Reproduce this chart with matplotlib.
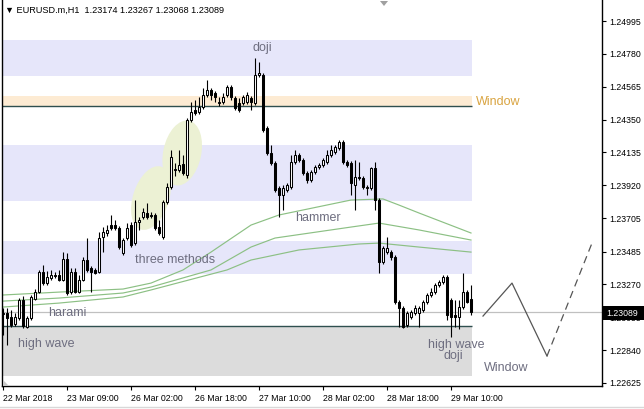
import matplotlib
matplotlib.use('Agg')
import matplotlib.pyplot as plt
from matplotlib.patches import Rectangle, Ellipse, Polygon
import matplotlib.transforms as mtransforms
from matplotlib.lines import Line2D

plt.rcParams['font.family'] = ['Liberation Sans', 'DejaVu Sans']

# ---------------- data ----------------
opens = [1.23076, 1.23083, 1.23057, 1.23011, 1.23050, 1.23168, 1.22991, 1.23050, 1.23175, 1.23220,
         1.23351, 1.23279, 1.23312, 1.23332, 1.23332, 1.23299, 1.23437, 1.23220, 1.23351, 1.23220,
         1.23299, 1.23430, 1.23378, 1.23365, 1.23351, 1.23581, 1.23607, 1.23659, 1.23659, 1.23640,
         1.23476, 1.23574, 1.23659, 1.23541, 1.23679, 1.23712, 1.23738, 1.23725, 1.23725, 1.23646,
         1.23581, 1.23810, 1.23908, 1.24020, 1.24020, 1.24059, 1.23987, 1.24347, 1.24413, 1.24399,
         1.24432, 1.24511, 1.24544, 1.24524, 1.24458, 1.24465, 1.24511, 1.24563, 1.24491, 1.24458,
         1.24458, 1.24465, 1.24491, 1.24458, 1.24642, 1.24642, 1.24295, 1.24131, 1.24065, 1.23902,
         1.23856, 1.23889, 1.23908, 1.24072, 1.24118, 1.24085, 1.24000, 1.23954, 1.24006, 1.24039,
         1.24052, 1.24072, 1.24118, 1.24137, 1.24164, 1.24203, 1.24072, 1.24065, 1.23921, 1.23974,
         1.23967, 1.23902, 1.23902, 1.24033, 1.23823, 1.23417, 1.23482, 1.23482, 1.23450, 1.23155,
         1.23116, 1.23004, 1.23057, 1.23083, 1.23083, 1.23102, 1.23155, 1.23201, 1.23220, 1.23266,
         1.23286, 1.23319, 1.23168, 1.23070, 1.23057, 1.23122, 1.23220, 1.23174]
highs = [1.23116, 1.23116, 1.23102, 1.23083, 1.23181, 1.23194, 1.23063, 1.23201, 1.23240, 1.23365,
         1.23397, 1.23358, 1.23365, 1.23351, 1.23365, 1.23482, 1.23476, 1.23378, 1.23378, 1.23332,
         1.23450, 1.23574, 1.23391, 1.23378, 1.23613, 1.23646, 1.23659, 1.23725, 1.23692, 1.23653,
         1.23574, 1.23672, 1.23679, 1.23823, 1.23712, 1.23771, 1.23803, 1.23744, 1.23738, 1.23692,
         1.23823, 1.23934, 1.24151, 1.24065, 1.24151, 1.24118, 1.24360, 1.24465, 1.24478, 1.24498,
         1.24557, 1.24609, 1.24557, 1.24537, 1.24498, 1.24524, 1.24576, 1.24576, 1.24504, 1.24491,
         1.24511, 1.24530, 1.24504, 1.24753, 1.24727, 1.24655, 1.24308, 1.24183, 1.24078, 1.23915,
         1.23921, 1.23934, 1.24118, 1.24151, 1.24131, 1.24098, 1.24013, 1.24020, 1.24052, 1.24065,
         1.24098, 1.24151, 1.24183, 1.24183, 1.24216, 1.24216, 1.24085, 1.24078, 1.24085, 1.24072,
         1.23980, 1.23921, 1.24039, 1.24072, 1.23836, 1.23522, 1.23581, 1.23496, 1.23463, 1.23168,
         1.23129, 1.23096, 1.23102, 1.23135, 1.23129, 1.23168, 1.23214, 1.23247, 1.23279, 1.23299,
         1.23332, 1.23332, 1.23181, 1.23168, 1.23168, 1.23345, 1.23234, 1.23267]
lows = [1.22939, 1.22873, 1.22991, 1.22998, 1.23037, 1.22985, 1.22985, 1.23037, 1.23168, 1.23214,
        1.23266, 1.23266, 1.23299, 1.23312, 1.23292, 1.23292, 1.23201, 1.23207, 1.23214, 1.23214,
        1.23292, 1.23351, 1.23220, 1.23338, 1.23345, 1.23482, 1.23587, 1.23627, 1.23627, 1.23502,
        1.23463, 1.23561, 1.23515, 1.23528, 1.23627, 1.23699, 1.23699, 1.23705, 1.23627, 1.23594,
        1.23568, 1.23797, 1.23895, 1.23980, 1.24006, 1.23987, 1.23967, 1.24334, 1.24380, 1.24386,
        1.24419, 1.24498, 1.24478, 1.24465, 1.24439, 1.24452, 1.24498, 1.24478, 1.24413, 1.24399,
        1.24445, 1.24452, 1.24413, 1.24445, 1.24629, 1.24268, 1.24118, 1.24052, 1.23875, 1.23712,
        1.23758, 1.23875, 1.23895, 1.24059, 1.24072, 1.23987, 1.23934, 1.23941, 1.23993, 1.24026,
        1.24039, 1.24059, 1.24105, 1.24124, 1.24151, 1.24059, 1.24039, 1.23856, 1.23758, 1.23954,
        1.23895, 1.23856, 1.23889, 1.23758, 1.23345, 1.23404, 1.23469, 1.23430, 1.23142, 1.22991,
        1.22985, 1.22991, 1.23044, 1.23070, 1.22991, 1.23089, 1.23142, 1.23188, 1.23207, 1.23253,
        1.23273, 1.23037, 1.22926, 1.22991, 1.22978, 1.23109, 1.23148, 1.23068]
closes = [1.23083, 1.23050, 1.23004, 1.23057, 1.23168, 1.22998, 1.23050, 1.23188, 1.23220, 1.23351,
          1.23279, 1.23319, 1.23332, 1.23325, 1.23299, 1.23437, 1.23214, 1.23351, 1.23220, 1.23299,
          1.23430, 1.23365, 1.23351, 1.23345, 1.23574, 1.23613, 1.23627, 1.23640, 1.23640, 1.23515,
          1.23561, 1.23640, 1.23528, 1.23679, 1.23692, 1.23744, 1.23712, 1.23718, 1.23640, 1.23607,
          1.23810, 1.23908, 1.24105, 1.24026, 1.24052, 1.24000, 1.24347, 1.24399, 1.24393, 1.24432,
          1.24511, 1.24544, 1.24511, 1.24498, 1.24465, 1.24498, 1.24563, 1.24498, 1.24426, 1.24413,
          1.24498, 1.24511, 1.24465, 1.24642, 1.24655, 1.24282, 1.24131, 1.24065, 1.23889, 1.23856,
          1.23902, 1.23921, 1.24072, 1.24118, 1.24085, 1.24000, 1.23954, 1.24006, 1.24039, 1.24052,
          1.24085, 1.24118, 1.24151, 1.24170, 1.24203, 1.24072, 1.24052, 1.23934, 1.23974, 1.23967,
          1.23908, 1.23908, 1.24033, 1.23823, 1.23417, 1.23509, 1.23509, 1.23450, 1.23155, 1.23116,
          1.22991, 1.23083, 1.23089, 1.23116, 1.23116, 1.23155, 1.23201, 1.23220, 1.23266, 1.23286,
          1.23319, 1.23070, 1.23057, 1.23057, 1.23122, 1.23220, 1.23155, 1.23089]

# moving averages (sampled points: bar index, price)
ma_fast_idx = [0, 14, 30, 37, 45, 52, 62, 69, 87, 95, 99, 104, 117]
ma_fast_val = [1.23201, 1.23220, 1.23240, 1.23279, 1.23365, 1.23482, 1.23659, 1.23725, 1.23823,
               1.23830, 1.23790, 1.23738, 1.23607]
ma_mid_idx = [0, 14, 30, 37, 52, 62, 68, 87, 94, 104, 117]
ma_mid_val = [1.23161, 1.23181, 1.23214, 1.23253, 1.23365, 1.23515, 1.23574, 1.23646, 1.23672,
              1.23627, 1.23561]
ma_slow_idx = [0, 14, 30, 37, 56, 62, 74, 89, 94, 104, 117]
ma_slow_val = [1.23122, 1.23148, 1.23188, 1.23234, 1.23365, 1.23430, 1.23496, 1.23535, 1.23541,
               1.23515, 1.23482]

x_tick_pos = [0, 16, 32, 48, 64, 80, 96, 112]
x_tick_labels = ['22 Mar 2018', '23 Mar 09:00', '26 Mar 02:00', '26 Mar 18:00',
                 '27 Mar 10:00', '28 Mar 02:00', '28 Mar 18:00', '29 Mar 10:00']
y_ticks = [1.24995, 1.24780, 1.24565, 1.24350, 1.24135, 1.23920, 1.23705,
           1.23485, 1.23270, 1.23055, 1.22840, 1.22625]

# zones (price bands)
band_lavender = [(1.24635, 1.24871), (1.23816, 1.24183), (1.23338, 1.23554)]
band_window = (1.24439, 1.24504)
band_gray = (1.22670, 1.22998)
level_lines = [1.24439, 1.22998]
bid = 1.23089

proj_solid_x = [120, 127.25, 136]
proj_solid_y = [1.23063, 1.23279, 1.22801]
proj_dash_x = [136, 147.25]
proj_dash_y = [1.22801, 1.23541]

# ---------------- figure ----------------
W, H = 644, 409
fig = plt.figure(figsize=(W / 100, H / 100), dpi=100)
fig.patch.set_facecolor('white')
ax = fig.add_axes([2 / W, 23 / H, 600 / W, 386 / H])
ax.set_xlim(-0.25, 149.75)
ax.set_ylim(1.22605, 1.25133)
ax.set_facecolor('white')

zone_end = 117.3
for lo, hi in band_lavender:
    ax.add_patch(Rectangle((-0.25, lo), zone_end + 0.25, hi - lo, facecolor='#E6E6FA',
                           edgecolor='none', zorder=0))
ax.add_patch(Rectangle((-0.25, band_window[0]), zone_end + 0.25, band_window[1] - band_window[0],
                       facecolor='#FDEBD3', edgecolor='none', zorder=0))
ax.add_patch(Rectangle((-0.25, band_gray[0]), zone_end + 0.25, band_gray[1] - band_gray[0],
                       facecolor='#DCDCDC', edgecolor='none', zorder=0))


def px_ellipse(cx, cy, wpx, hpx, ang):
    tr = fig.dpi_scale_trans + mtransforms.ScaledTranslation(cx, cy, ax.transData)
    e = Ellipse((0, 0), wpx / 100, hpx / 100, angle=ang, transform=tr,
                facecolor='#ECF1D4', edgecolor='none', zorder=0.5)
    ax.add_patch(e)


px_ellipse(44.8, 1.24131, 38, 66, -12)
px_ellipse(37.0, 1.23836, 36, 66, -18)

ax.axhline(bid, color='#C0C0C0', lw=0.9, zorder=1)
for lv in level_lines:
    ax.hlines(lv, -0.25, zone_end, color='#2F4F4F', lw=1.0, zorder=1)

ax.plot(ma_fast_idx, ma_fast_val, color='#8CC084', lw=0.85, zorder=1.5)
ax.plot(ma_mid_idx, ma_mid_val, color='#8CC084', lw=0.85, zorder=1.5)
ax.plot(ma_slow_idx, ma_slow_val, color='#8CC084', lw=0.85, zorder=1.5)

# candles
bw = 0.5
for i in range(len(opens)):
    o, h, l, c = opens[i], highs[i], lows[i], closes[i]
    ax.vlines(i, l, h, color='black', lw=0.8, zorder=3)
    lo_b, hi_b = min(o, c), max(o, c)
    if hi_b - lo_b < 0.00002:
        ax.hlines(o, i - 0.5, i + 0.5, color='black', lw=0.8, zorder=4)
    else:
        fc = 'white' if c > o else 'black'
        ax.add_patch(Rectangle((i - bw / 2, lo_b), bw, hi_b - lo_b, facecolor=fc,
                               edgecolor='black', lw=0.75, zorder=4))

ax.plot(proj_solid_x, proj_solid_y, color='#555555', lw=0.9, zorder=2)
ax.plot(proj_dash_x, proj_dash_y, color='#555555', lw=0.9, ls=(0, (6, 4)), zorder=2)

lab_col = '#6E6E80'
fs = 9
ax.text(64.75, 1.24819, 'doji', color=lab_col, fontsize=fs, ha='center', va='center', zorder=5)
ax.text(118.25, 1.24465, 'Window', color='#D9A441', fontsize=fs, ha='left', va='center', zorder=5)
ax.text(73.0, 1.23705, 'hammer', color=lab_col, fontsize=fs, ha='left', va='center', zorder=5)
ax.text(33.0, 1.23430, 'three methods', color=lab_col, fontsize=fs, ha='left', va='center', zorder=5)
ax.text(11.25, 1.23083, 'harami', color=lab_col, fontsize=fs, ha='left', va='center', zorder=5)
ax.text(3.75, 1.22880, 'high wave', color=lab_col, fontsize=fs, ha='left', va='center', zorder=5)
ax.text(106.25, 1.22873, 'high wave', color=lab_col, fontsize=fs, ha='left', va='center', zorder=5)
ax.text(110.0, 1.22801, 'doji', color=lab_col, fontsize=fs, ha='left', va='center', zorder=5)
ax.text(120.25, 1.22723, 'Window', color=lab_col, fontsize=fs, ha='left', va='center', zorder=5)

# axes styling
ax.spines['top'].set_visible(False)
for s in ['left', 'right', 'bottom']:
    ax.spines[s].set_color('black')
    ax.spines[s].set_linewidth(1.0)
ax.yaxis.tick_right()
ax.set_yticks(y_ticks)
ax.set_yticklabels(['%.5f' % v for v in y_ticks])
ax.tick_params(axis='y', direction='out', length=3, width=0.8, labelsize=6.3, pad=2)
ax.set_xticks(x_tick_pos)
ax.set_xticklabels(x_tick_labels)
ax.tick_params(axis='x', direction='out', length=3, width=0.8, labelsize=6.3, pad=3)
for lbl in ax.get_xticklabels():
    lbl.set_horizontalalignment('left')

# bid box
fig.patches.append(Rectangle((603 / W, (H - 320) / H), 41 / W, 14 / H, transform=fig.transFigure,
                             facecolor='black', edgecolor='none', zorder=10))
fig.text(606 / W, (H - 313) / H, '%.5f' % bid, color='white', fontsize=6.3, va='center',
         ha='left', zorder=11)

# header
fig.text(5 / W, (H - 10) / H, '\u25bc EURUSD.m,H1  %.5f %.5f %.5f %.5f' % (opens[-1], highs[-1], lows[-1], closes[-1]),
         fontsize=6.6, va='center', ha='left', color='black')
fig.patches.append(Polygon([[380 / W, (H - 1) / H], [388 / W, (H - 1) / H], [384 / W, (H - 6) / H]],
                           closed=True, transform=fig.transFigure, facecolor='#A0A0A0',
                           edgecolor='none'))
fig.patches.append(Polygon([[3 / W, (H - 386) / H], [9 / W, (H - 386) / H], [3 / W, (H - 380) / H]],
                           closed=True, transform=fig.transFigure, facecolor='#C8C8C8',
                           edgecolor='none'))
fig.lines.append(Line2D([0, 1], [(H - 407) / H, (H - 407) / H], transform=fig.transFigure,
                        color='#D8D8D8', lw=1))

fig.savefig('out.png', dpi=100)
